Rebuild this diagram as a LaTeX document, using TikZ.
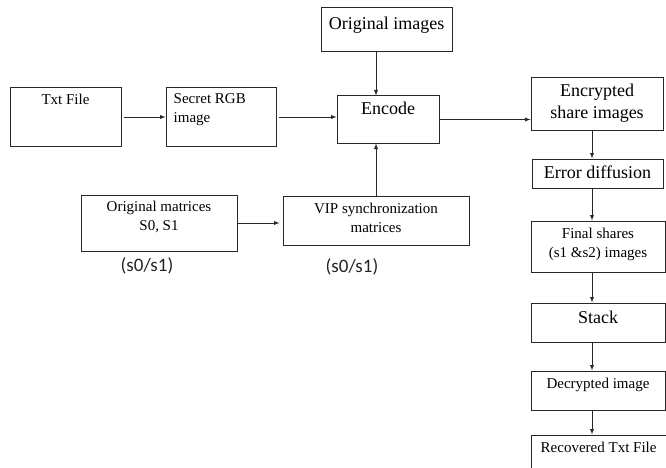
\documentclass[tikz,border=0pt]{standalone}
\usepackage{fontspec}
\setmainfont{Liberation Serif}
\newfontfamily\lblfont{Carlito}
\usepackage{xcolor}
\usetikzlibrary{arrows,positioning}
\definecolor{edgegray}{RGB}{40, 40, 40}
\definecolor{notegray}{RGB}{35, 35, 35}

\tikzset{
  box/.style={draw=edgegray, line width=1pt, rectangle, inner sep=0pt},
  big/.style={font=\rmfamily\fontsize{18}{22}\selectfont, align=center},
  small/.style={font=\rmfamily\fontsize{15}{19}\selectfont, align=center},
  toptext/.style={anchor=north, inner sep=6pt},
  arr/.style={-latex, line width=0.9pt, draw=edgegray}
}

\begin{document}
\begin{tikzpicture}[x=1pt, y=-1pt]
            \useasboundingbox (0,0) rectangle (666,468);
            \clip (0,0) rectangle (666,468);

            % Input side
            \node[box, minimum width=111pt, minimum height=58pt,
                  label={[small, toptext]north:Txt File}] (txt) at (65.5,117) {};
            \node[box, minimum width=110pt, minimum height=58pt,
                  label={[small, align=left, anchor=north west, inner sep=6pt, xshift=2pt]north west:Secret RGB\\image}] (rgb) at (221,117) {};
            \node[box, minimum width=131pt, minimum height=44pt,
                  label={[big, toptext, inner sep=9pt]north:Original images}] (orig) at (386.5,30) {};
            \node[box, minimum width=102pt, minimum height=47pt,
                  label={[big, toptext]north:Encode}] (enc) at (388,119.5) {};
            \node[box, minimum width=156pt, minimum height=56pt,
                  label={[small, toptext]north:Original matrices\\S0, S1}] (omat) at (159,223) {};
            \node[box, minimum width=186pt, minimum height=49pt,
                  label={[small, toptext, inner sep=7pt]north:VIP synchronization\\matrices}] (vip) at (376,220.5) {};

            \node[font=\lblfont\fontsize{19}{22}\selectfont, text=notegray] (note1) at (147,266) {(s0/s1)};
            \node[font=\lblfont\fontsize{19}{22}\selectfont, text=notegray] (note2) at (352,267) {(s0/s1)};

            % Share / decode chain
            \coordinate (spine) at (592,0);
            \node[box, minimum width=132pt, minimum height=52pt,
                  label={[big, toptext]north:Encrypted\\share images}] (encr) at (597,104) {};
            \node[box, minimum width=131pt, minimum height=29pt,
                  label={[big, toptext, inner sep=7pt]north:Error diffusion}] (err) at (597.5,173.5) {};
            \node[box, minimum width=134pt, minimum height=51pt,
                  label={[small, toptext, inner sep=7pt]north:Final shares\\(s1 \&s2) images}] (final) at (598,246.5) {};
            \node[box, minimum width=134pt, minimum height=39pt,
                  label={[big, toptext, inner sep=8pt]north:Stack}] (stack) at (598,322.5) {};
            \node[box, minimum width=134pt, minimum height=39pt,
                  label={[small, toptext, inner sep=7pt]north:Decrypted image}] (dec) at (598,390.5) {};
            \node[box, minimum width=150pt, minimum height=60pt,
                  label={[small, anchor=north west, inner sep=7pt, xshift=3pt]north west:Recovered Txt File}] (rec) at (606,465) {};

            % Connectors
            \draw[arr, shorten <=2pt] (txt.east) -- (rgb.west);
            \draw[arr, shorten <=2pt] (rgb.east) -- (rgb.east -| enc.west);
            \draw[arr] (orig.south -| vip.north) -- (vip.north |- enc.north);
            \draw[arr] (vip.north) -- (vip.north |- enc.south);
            \draw[arr, shorten >=3pt] (omat.east) -- (omat.east -| vip.west);
            \draw[arr] (enc.east) -- (enc.east -| encr.west);

            \draw[arr] (encr.south -| spine) -- (err.north -| spine);
            \draw[arr] (err.south -| spine) -- (final.north -| spine);
            \draw[arr] (final.south -| spine) -- (stack.north -| spine);
            \draw[arr] (stack.south -| spine) -- (dec.north -| spine);
            \draw[arr] (dec.south -| spine) -- (rec.north -| spine);
        \end{tikzpicture}
\end{document}
